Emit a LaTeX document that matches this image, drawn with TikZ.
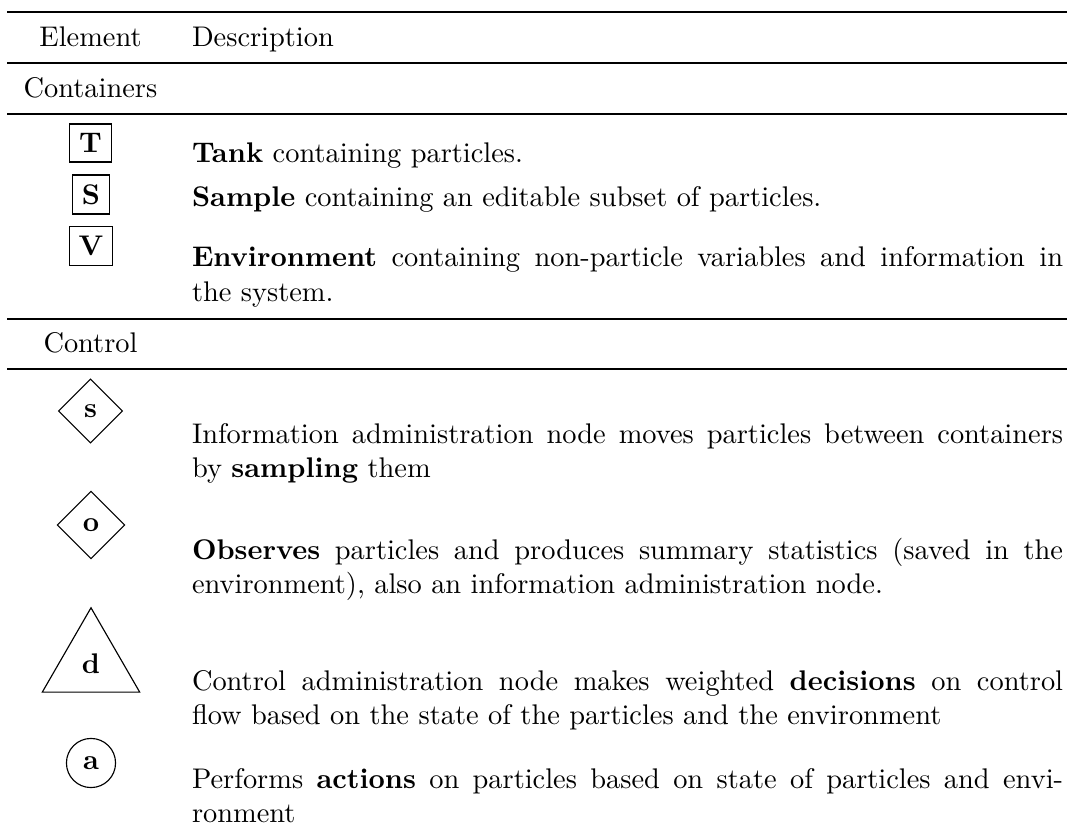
\documentclass[tikz,border=0pt]{standalone}
\usetikzlibrary{shapes.geometric}
% Legend table of the particle-flow notation: containers and control nodes.
\begin{document}
\begin{tikzpicture}[x=0.3521pt,y=-0.3521pt,
  every node/.style={inner sep=0pt,outer sep=0pt},
  thinrule/.style={line width=0.5pt},
  heavyrule/.style={line width=0.8pt},
  headcell/.style={anchor=base},
  desccell/.style={anchor=base west,text width=306.7pt,align=justify},
  container/.style={draw,rectangle,line width=0.4pt,inner sep=3.33pt,font=\bfseries},
  infonode/.style={draw,diamond,line width=0.4pt,inner sep=3.33pt,font=\bfseries},
  decisionnode/.style={draw,regular polygon,regular polygon sides=3,line width=0.4pt,
    minimum size=39.6pt,font=\bfseries},
  actionnode/.style={draw,circle,line width=0.4pt,minimum size=17.3pt,font=\bfseries}]
\useasboundingbox (0,0) rectangle (1067,836);

% table rules
\draw[heavyrule] (7,12) -- (1067,12);
\draw[thinrule]  (7,63) -- (1067,63);
\draw[thinrule]  (7,114) -- (1067,114);
\draw[heavyrule] (7,319) -- (1067,319);
\draw[thinrule]  (7,369) -- (1067,369);

% header
\node[headcell] (hElement) at (90.5,47) {Element};
\node[anchor=base west] (hDescription) at (192,47) {Description};

% containers
\node[headcell] (secContainers) at (90.5,98) {Containers};
\node[container] (tank) at (90.5,143) {T};
\node[container] (sample) at (91,194.5) {S};
\node[container] (env) at (91,246) {V};
\node[desccell] (tankText) at (192,163) {\textbf{Tank} containing particles.};
\node[desccell] (sampleText) at (192,207) {\textbf{Sample} containing an editable subset of particles.};
\node[desccell] (envText) at (192,267) {\textbf{Environment} containing non-particle variables and information in\linebreak the system.};

% control
\node[headcell] (secControl) at (90.5,353) {Control};
\node[infonode] (sampler) at (90.5,411) {s};
\node[infonode] (observer) at (91,525) {o};
\node[decisionnode] (decider) at (91,664) {d};
\node[actionnode] (actor) at (91,763) {a};
\node[desccell] (samplerText) at (192,443) {Information administration node moves particles between containers\linebreak by \textbf{sampling} them};
\node[desccell] (observerText) at (192,559) {\textbf{Observes} particles and produces summary statistics (saved in the\linebreak environment), also an information administration node.};
\node[desccell] (deciderText) at (192,690) {Control administration node makes weighted \textbf{decisions} on control\linebreak flow based on the state of the particles and the environment};
\node[desccell] (actorText) at (192,788) {Performs \textbf{actions} on particles based on state of particles and envi-\linebreak ronment};
\end{tikzpicture}
\end{document}
